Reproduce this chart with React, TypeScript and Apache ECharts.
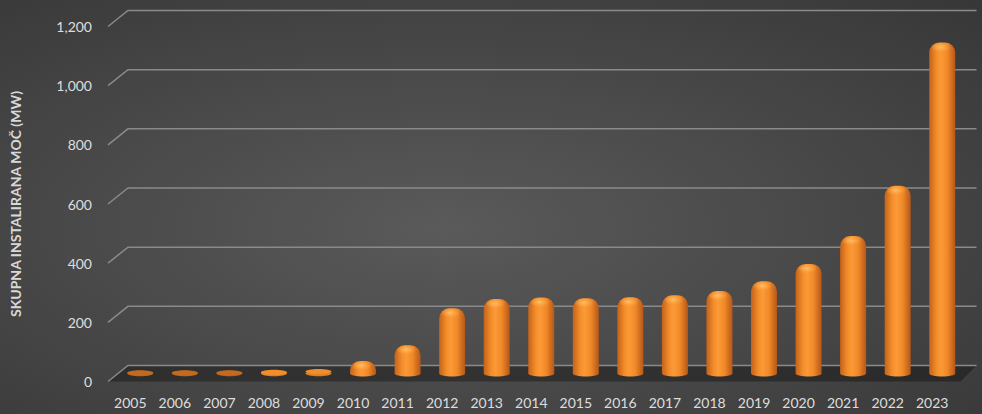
import React, { useEffect, useRef } from "react";
import * as echarts from "echarts";

const years = [
  "2005", "2006", "2007", "2008", "2009", "2010", "2011", "2012", "2013", "2014",
  "2015", "2016", "2017", "2018", "2019", "2020", "2021", "2022", "2023",
];
const capacityMW = [
  0.2, 0.3, 0.5, 2, 5, 29, 82, 207, 238, 243, 241, 244, 251, 265, 298, 357, 451, 621, 1105,
];
const yTickValues = [0, 200, 400, 600, 800, 1000, 1200];
const yAxisTitle = "SKUPNA INSTALIRANA MOČ (MW)";

const FONT = "Lato, 'Open Sans', sans-serif";
const DEPTH_X = 20;
const DEPTH_Y = -16;

export default function App() {
  const ref = useRef<HTMLDivElement>(null);

  useEffect(() => {
    document.body.style.margin = "0";
    const chart = echarts.init(ref.current!, null, { renderer: "svg" });

    const bodyGrad = () =>
      new echarts.graphic.LinearGradient(0, 0, 1, 0, [
        { offset: 0, color: "#c4621a" },
        { offset: 0.28, color: "#f38d2a" },
        { offset: 0.45, color: "#fc9a38" },
        { offset: 0.7, color: "#f08826" },
        { offset: 1, color: "#b4571a" },
      ]);

    const option: any = {
      animation: false,
      backgroundColor: {
        type: "radial",
        x: 0.45,
        y: 0.55,
        r: 1.25,
        colorStops: [
          { offset: 0, color: "#5a5a5a" },
          { offset: 0.55, color: "#3b3b3b" },
          { offset: 1, color: "#232323" },
        ],
      },
      grid: { left: 99.5, right: 27.5, top: 26.5, bottom: 32.5 },
      xAxis: {
        type: "category",
        data: years,
        boundaryGap: true,
        axisLine: { show: false },
        axisTick: { show: false },
        axisLabel: { color: "#dedede", fontFamily: FONT, fontSize: 14, margin: 14 },
        splitLine: { show: false },
      },
      yAxis: {
        type: "value",
        min: yTickValues[0],
        max: yTickValues[yTickValues.length - 1],
        interval: yTickValues[1] - yTickValues[0],
        axisLine: { show: false },
        axisTick: { show: false },
        splitLine: { show: false },
        axisLabel: {
          color: "#dedede",
          fontFamily: FONT,
          fontSize: 14,
          margin: 16,
          formatter: (v: number) => v.toLocaleString("en-US"),
        },
        name: yAxisTitle,
        nameLocation: "middle",
        nameRotate: 90,
        nameGap: 86,
        nameTextStyle: { color: "#d8d8d8", fontFamily: FONT, fontSize: 14, fontWeight: "bold" },
      },
      series: [
        {
          type: "custom",
          name: "floor",
          z: 1,
          silent: true,
          clip: false,
          data: [[0, 0]],
          renderItem: (params: any, api: any) => {
            const cs = params.coordSys;
            const y0 = api.coord([0, 0])[1];
            const l = cs.x;
            const r = cs.x + cs.width;
            return {
              type: "polygon",
              shape: {
                points: [
                  [l, y0],
                  [l + DEPTH_X, y0 + DEPTH_Y],
                  [r + DEPTH_X + 2, y0 + DEPTH_Y],
                  [r + 6, y0],
                ],
              },
              style: { fill: "rgba(0,0,0,0.32)" },
            };
          },
        },
        {
          type: "custom",
          name: "grid",
          z: 2,
          silent: true,
          clip: false,
          data: yTickValues.map((v) => [0, v]),
          renderItem: (params: any, api: any) => {
            const cs = params.coordSys;
            const y = api.coord([0, api.value(1)])[1];
            const l = cs.x;
            const r = cs.x + cs.width;
            return {
              type: "polyline",
              shape: {
                points: [
                  [l, y],
                  [l + DEPTH_X, y + DEPTH_Y],
                  [r + DEPTH_X + 2, y + DEPTH_Y],
                ],
              },
              style: { stroke: "#8a8a8a", lineWidth: 1.5, fill: "none" },
            };
          },
        },
        {
          type: "custom",
          name: "capacity",
          z: 3,
          clip: false,
          data: capacityMW.map((v, i) => [i, v]),
          renderItem: (params: any, api: any) => {
            const i = api.value(0);
            const v = api.value(1);
            const top = api.coord([i, v]);
            const base = api.coord([i, 0]);
            const cx = top[0] + DEPTH_X / 2;
            const yT = top[1] + DEPTH_Y / 2;
            const yB = base[1] + DEPTH_Y / 2;
            const hw = 13;
            const children: any[] = [];
            const h = yB - yT;
            if (h < 2.5) {
              children.push({
                type: "ellipse",
                shape: { cx, cy: yB, rx: hw, ry: 2.8 },
                style: { fill: v >= 2 ? "#e07f22" : "#b8621c" },
              });
              children.push({
                type: "ellipse",
                shape: { cx, cy: yT - 0.5, rx: hw, ry: 2.6 },
                style: { fill: v >= 2 ? "#f08e2c" : "#c26a1e" },
              });
            } else {
              children.push({
                type: "ellipse",
                shape: { cx, cy: yB, rx: hw, ry: 3 },
                style: { fill: bodyGrad() },
              });
              children.push({
                type: "rect",
                shape: { x: cx - hw, y: yT - 4, width: hw * 2, height: h + 4, r: [10, 10, 0, 0] },
                style: { fill: bodyGrad() },
              });
              children.push({
                type: "ellipse",
                shape: { cx: cx - 1, cy: yT + 1, rx: 9, ry: 4.5 },
                style: {
                  fill: new echarts.graphic.RadialGradient(0.45, 0.45, 0.6, [
                    { offset: 0, color: "rgba(255,196,110,0.9)" },
                    { offset: 1, color: "rgba(252,160,60,0)" },
                  ]),
                },
              });
            }
            return { type: "group", children };
          },
        },
      ],
    };

    chart.setOption(option);
    return () => chart.dispose();
  }, []);

  return (
    <div
      ref={ref}
      style={{ position: "absolute", left: 0, top: 0, width: 982, height: 414 }}
    />
  );
}
